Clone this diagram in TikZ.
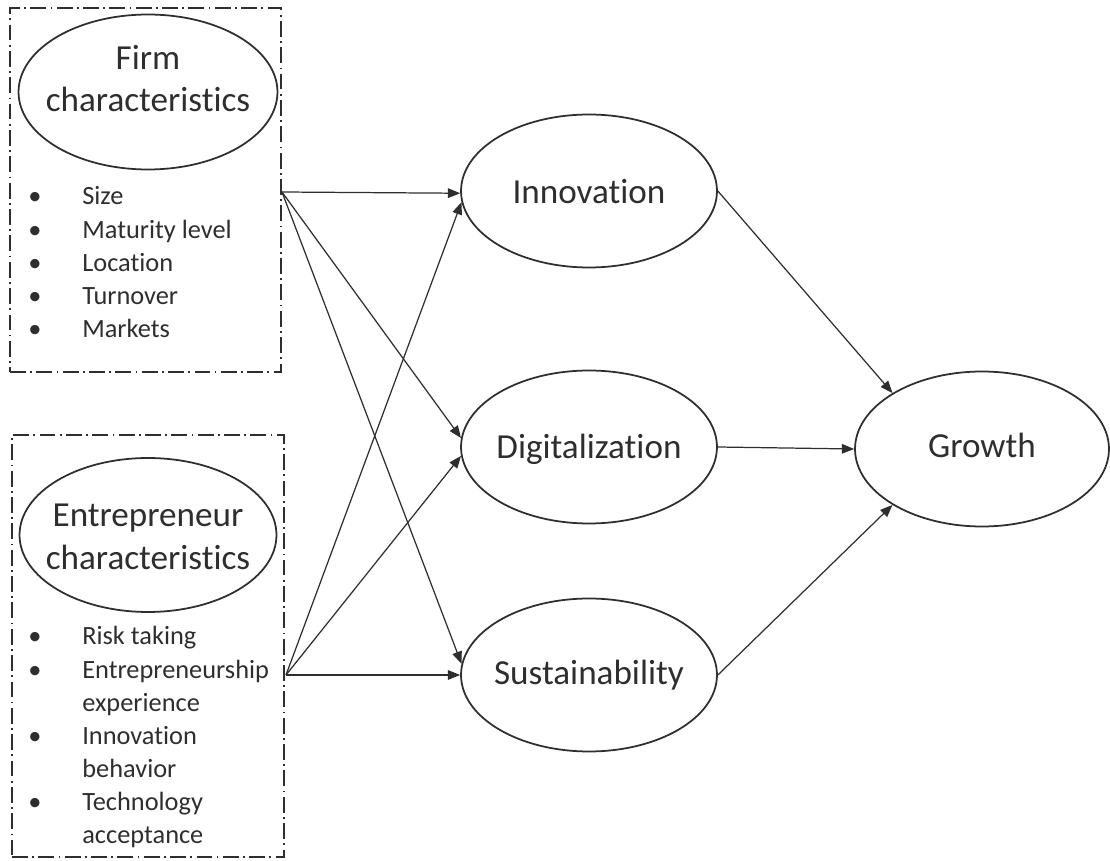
\documentclass[tikz,border=0pt]{standalone}
\usepackage{fontspec}
\setmainfont{Carlito}[Ligatures=NoCommon]
\usepackage{xcolor}
\usetikzlibrary{shapes.geometric,arrows.meta}
\definecolor{ink}{gray}{0.18}

\begin{document}
\begin{tikzpicture}[x=0.02cm,y=-0.02cm,
  every node/.style={text=ink},
  bubble/.style={draw=ink,line width=1pt,ellipse,inner sep=0pt,minimum width=5.12cm,minimum height=3.06cm},
  groupbox/.style={draw=ink,line width=1pt,rectangle,inner sep=0pt,dash pattern=on 9pt off 2.5pt on 1pt off 2.5pt},
  biglbl/.style={align=center,inner sep=0pt,font=\fontsize{20}{24.4}\selectfont},
  itemlist/.style={anchor=base west,inner sep=0pt,font=\fontsize{15}{18.8}\selectfont},
  link/.style={draw=ink,line width=0.7pt,-{Triangle[length=7pt,width=5.5pt]}}]
  \useasboundingbox (0,0) rectangle (1110,861);

  % dash-dot groups on the left
  \node[groupbox,minimum width=5.42cm,minimum height=7.28cm] (firmbox) at (145.5,190) {};
  \node[groupbox,minimum width=5.44cm,minimum height=8.44cm] (entbox) at (148,646) {};

  \node[bubble,minimum width=5.18cm,minimum height=3.1cm] (firm) at (148,92) {};
  \node[biglbl] (firmlbl) at (148,78.5) {Firm\\characteristics};
  \node[bubble,minimum width=5.14cm,minimum height=3.08cm] (ent) at (148,535) {};
  \node[biglbl] (entlbl) at (148,537) {Entrepreneur\\characteristics};

  \node[itemlist] (firmlist) at (28,205) {\begin{tabular}[t]{@{}p{1.08cm}@{}l@{}}
    \textbullet & Size\\
    \textbullet & Maturity level\\
    \textbullet & Location\\
    \textbullet & Turnover\\
    \textbullet & Markets
  \end{tabular}};
  \node[itemlist] (entlist) at (28,645) {\begin{tabular}[t]{@{}p{1.08cm}@{}l@{}}
    \textbullet & Risk taking\\
    \textbullet & Entrepreneurship\\
                & experience\\
    \textbullet & Innovation\\
                & behavior\\
    \textbullet & Technology\\
                & acceptance
  \end{tabular}};

  % mediators and outcome
  \node[bubble] (inn) at (589,191) {};
  \node[bubble] (dig) at (589,447) {};
  \node[bubble] (sus) at (589,675) {};
  \node[bubble,minimum width=5.08cm,minimum height=3.1cm] (grw) at (982,449) {};
  \node[biglbl,anchor=base] (innlbl) at (589,204) {Innovation};
  \node[biglbl,anchor=base] (diglbl) at (589,459) {Digitalization};
  \node[biglbl,anchor=base] (suslbl) at (589,684) {Sustainability};
  \node[biglbl,anchor=base] (grwlbl) at (982,458) {Growth};

  \coordinate (fout) at (282,192);
  \coordinate (eout) at (286,675);

  \path[every edge/.style={link}]
        (fout) edge (inn.181)
        (fout) edge (dig.176)
        (fout) edge (sus.175)
        (eout) edge (inn.185)
        (eout) edge (dig.184)
        (eout) edge (sus.180)
        (inn.east) edge (grw.148)
        (dig.east) edge (grw.west)
        (sus.east) edge (grw.212);
\end{tikzpicture}
\end{document}
